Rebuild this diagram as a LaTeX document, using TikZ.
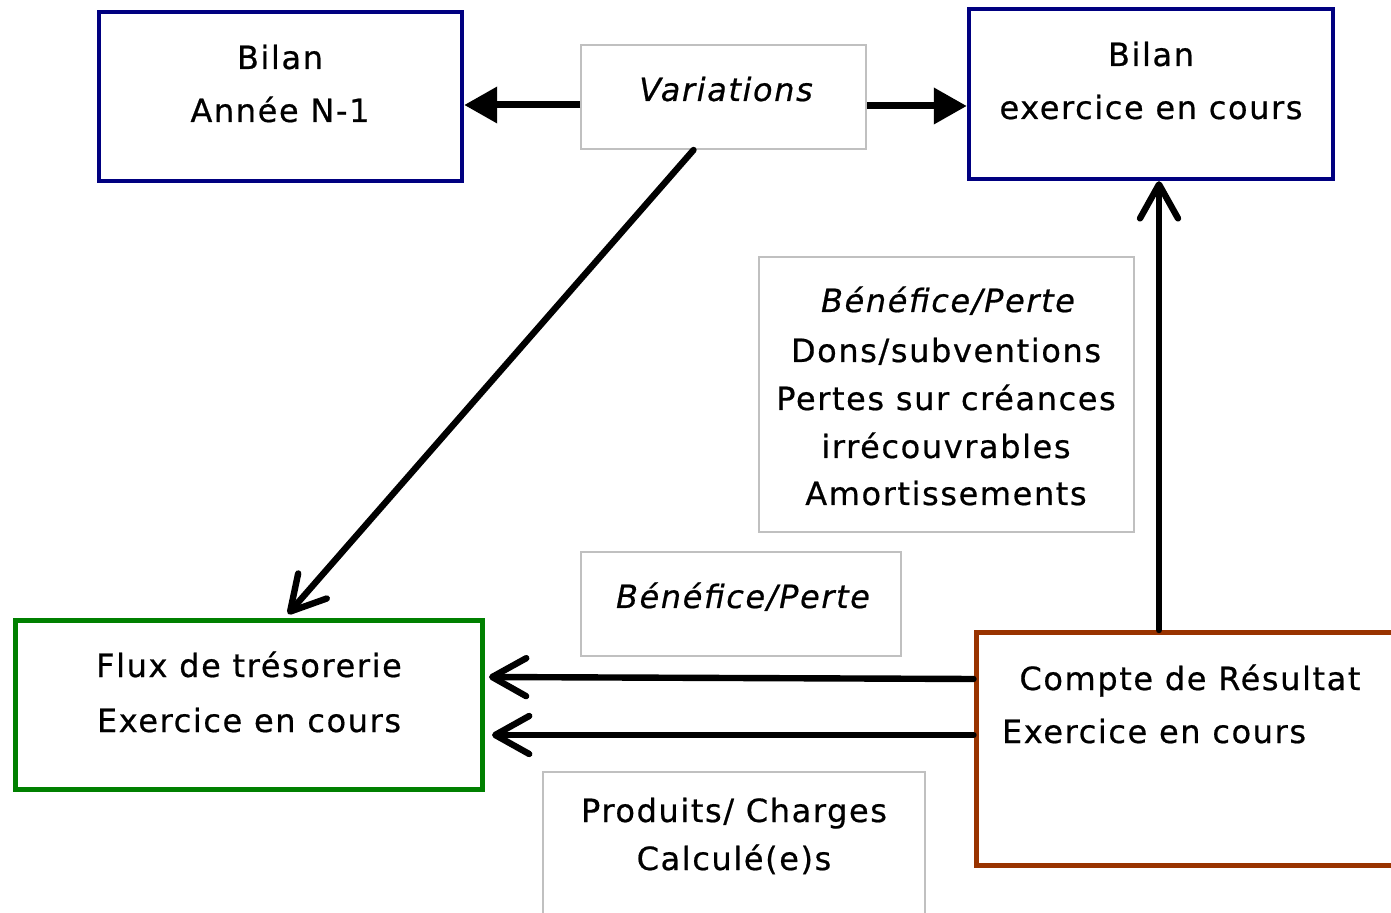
\documentclass[tikz,border=0pt]{standalone}
\usepackage{fontspec}
\setmainfont{DejaVu Sans}[LetterSpace=5,FakeBold=0.6]
\usetikzlibrary{arrows.meta,calc}
\definecolor{navyb}{HTML}{000080}
\definecolor{greenb}{HTML}{008000}
\definecolor{brownb}{HTML}{993300}
\definecolor{grayb}{HTML}{C0C0C0}
\tikzset{
  box/.style={draw, rectangle, inner sep=0pt, fill=white},
  bluebox/.style={box, draw=navyb, line width=2.2pt},
  greenbox/.style={box, draw=greenb, line width=2.5pt},
  brownbox/.style={box, draw=brownb, line width=2.5pt},
  graybox/.style={box, draw=grayb, line width=1pt},
  txt/.style={inner sep=0pt, anchor=base, font=\fontsize{16}{19}\selectfont},
  fat/.style={line width=3.5pt, -{Triangle[length=16.5pt,width=17.5pt]}},
  thin/.style={line width=3.2pt, line cap=round, -{Straight Barb[length=17pt,width=19pt,line cap=round,line join=round]}},
}
\begin{document}
\begin{tikzpicture}[x=0.5pt,y=-0.5pt]
\useasboundingbox (0,0) rectangle (1391,913);
\clip (0,0) rectangle (1391,913);
% boxes
\node[bluebox, minimum width=181.5pt, minimum height=84.5pt] (b1) at (280.5,96.5) {};
\node[graybox, minimum width=142.5pt, minimum height=52pt] (var) at (723.5,97) {};
\node[bluebox, minimum width=182pt, minimum height=85pt] (b2) at (1151,94) {};
\node[graybox, minimum width=187.5pt, minimum height=137.5pt] (bp1) at (946.5,394.5) {};
\node[graybox, minimum width=160pt, minimum height=52pt] (bp2) at (741,604) {};
\node[greenbox, minimum width=233.5pt, minimum height=84.5pt] (flux) at (249,705) {};
\node[brownbox, minimum width=212pt, minimum height=116.5pt] (cr) at (1188,749) {};
\node[graybox, minimum width=191pt, minimum height=79pt] (pc) at (734,851) {};
% texts
\node[txt] (t1) at (280,69) {Bilan};
\node[txt] (t2) at (280,122) {Année N-1};
\node[txt] (t3) at (726,101) {\itshape Variations};
\node[txt] (t4) at (1151,66) {Bilan};
\node[txt] (t5) at (1151,119) {exercice en cours};
\node[txt] (t6) at (948,312) {\itshape Bénéfice/Perte};
\node[txt] (t7) at (946,362) {Dons/subventions};
\node[txt] (t8) at (946,410) {Pertes sur créances};
\node[txt] (t9) at (946,458) {irrécouvrables};
\node[txt] (t10) at (946,505) {Amortissements};
\node[txt] (t11) at (743,608) {\itshape Bénéfice/Perte};
\node[txt] (t12) at (249,677) {Flux de trésorerie};
\node[txt] (t13) at (249,732) {Exercice en cours};
\node[txt] (t14) at (1190,690) {Compte de Résultat};
\node[txt] (t15) at (1154,743) {Exercice en cours};
\node[txt] (t16) at (734,822) {Produits/ Charges};
\node[txt] (t17) at (734,870) {Calculé(e)s};
% connectors
\draw[fat] ([yshift=-4pt]var.west) -- ([yshift=-4pt]var.west -| b1.east);
\draw[fat] ([yshift=-4.5pt]var.east) -- ([yshift=-4.5pt]var.east -| b2.west);
\draw[thin] ([xshift=-15pt]var.south) -- ([xshift=19.5pt,yshift=2pt]flux.north);
\draw[thin] ([xshift=-14.5pt]cr.north) -- ([xshift=-14.5pt]cr.north |- b2.south);
\draw[thin] ([yshift=35pt]cr.west) -- ([xshift=2pt,yshift=14pt]flux.east);
\draw[thin] ([yshift=7pt]cr.west) -- ([xshift=3.5pt,yshift=-15pt]flux.east);
\end{tikzpicture}
\end{document}
